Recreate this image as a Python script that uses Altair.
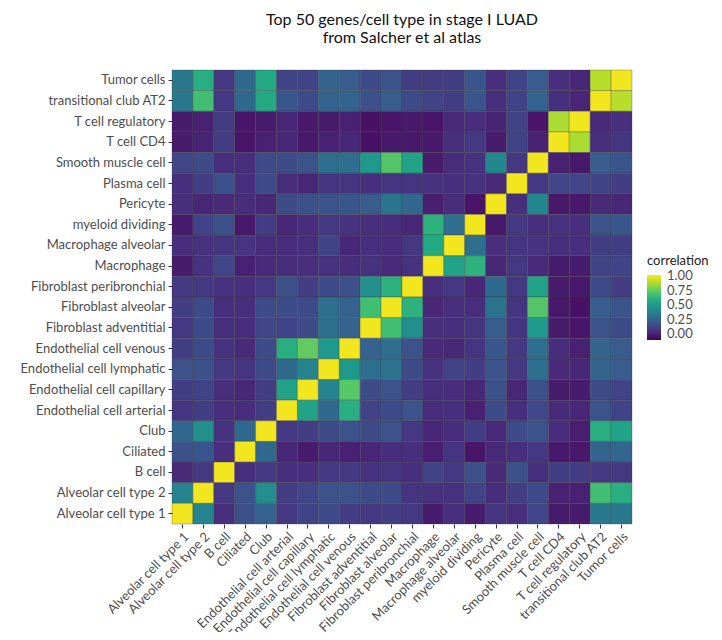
import altair as alt
import pandas as pd

cell_types = [
    "Alveolar cell type 1", "Alveolar cell type 2", "B cell", "Ciliated", "Club",
    "Endothelial cell arterial", "Endothelial cell capillary", "Endothelial cell lymphatic",
    "Endothelial cell venous", "Fibroblast adventitial", "Fibroblast alveolar",
    "Fibroblast peribronchial", "Macrophage", "Macrophage alveolar", "myeloid dividing",
    "Pericyte", "Plasma cell", "Smooth muscle cell", "T cell CD4", "T cell regulatory",
    "transitional club AT2", "Tumor cells",
]

# rows listed top (Tumor cells) to bottom (Alveolar cell type 1); columns follow cell_types
row_names = list(reversed(cell_types))
corr_rows = [
    [0.35,0.6,0.08,0.28,0.58,0.12,0.12,0.25,0.22,0.15,0.18,0.1,0.1,0.1,0.2,0.05,0.12,0.22,0.05,0.02,0.9,1.0],
    [0.35,0.68,0.08,0.28,0.58,0.2,0.15,0.25,0.25,0.17,0.22,0.15,0.12,0.1,0.2,0.05,0.12,0.25,0.05,0.02,1.0,0.9],
    [-0.02,0.0,0.1,-0.04,-0.02,0.02,-0.03,-0.02,0.0,-0.05,-0.04,-0.03,-0.04,0.03,0.04,0.01,0.12,-0.04,0.88,1.0,0.03,0.05],
    [-0.02,0.01,0.1,-0.04,0.0,0.02,-0.03,0.0,0.02,-0.05,-0.03,-0.03,-0.03,0.05,0.08,-0.02,0.12,0.0,1.0,0.88,0.05,0.07],
    [0.13,0.15,0.05,0.05,0.15,0.15,0.18,0.3,0.3,0.5,0.72,0.55,-0.02,0.04,0.06,0.42,0.08,1.0,0.0,-0.03,0.22,0.2],
    [0.05,0.1,0.17,0.05,0.15,0.04,0.02,0.07,0.07,0.05,0.07,0.07,0.06,0.05,0.06,0.03,1.0,0.08,0.13,0.13,0.12,0.1],
    [0.05,0.02,0.03,0.04,0.02,0.15,0.17,0.18,0.2,0.22,0.33,0.28,-0.01,0.04,-0.04,1.0,0.05,0.42,-0.03,-0.03,0.03,0.02],
    [-0.02,0.12,0.17,-0.03,0.1,0.02,0.04,0.08,0.06,0.05,0.04,0.02,0.62,0.3,1.0,-0.03,0.08,0.05,0.06,0.05,0.18,0.2],
    [0.04,0.06,0.07,0.07,0.04,0.04,0.05,0.12,0.02,0.05,0.04,0.08,0.58,1.0,0.3,0.05,0.07,0.06,0.05,0.05,0.1,0.1],
    [-0.02,0.06,0.13,0.0,0.03,0.04,0.05,0.06,0.04,0.06,0.03,0.06,1.0,0.55,0.62,0.02,0.08,0.03,-0.02,-0.02,0.12,0.12],
    [0.08,0.08,0.06,0.05,0.08,0.17,0.1,0.15,0.17,0.45,0.62,1.0,0.05,0.08,0.02,0.28,0.08,0.55,-0.02,-0.03,0.15,0.1],
    [0.1,0.15,0.05,0.05,0.15,0.15,0.15,0.3,0.25,0.68,1.0,0.62,0.02,0.05,0.05,0.33,0.07,0.72,-0.03,-0.05,0.22,0.18],
    [0.08,0.15,0.05,0.04,0.13,0.12,0.15,0.3,0.25,1.0,0.68,0.45,0.05,0.05,0.07,0.22,0.07,0.5,-0.02,-0.04,0.18,0.15],
    [0.1,0.15,0.06,0.03,0.15,0.6,0.75,0.5,1.0,0.25,0.3,0.18,0.03,0.02,0.07,0.2,0.08,0.3,0.04,0.0,0.25,0.22],
    [0.18,0.17,0.08,0.07,0.15,0.28,0.4,1.0,0.5,0.3,0.32,0.15,0.06,0.12,0.1,0.18,0.08,0.3,0.03,0.02,0.25,0.22],
    [0.1,0.12,0.05,0.02,0.1,0.55,1.0,0.4,0.73,0.15,0.18,0.1,0.05,0.04,0.02,0.17,0.02,0.17,-0.02,-0.02,0.15,0.12],
    [0.07,0.1,0.05,0.04,0.1,1.0,0.55,0.28,0.6,0.12,0.15,0.18,0.04,0.05,0.0,0.15,0.05,0.14,0.03,0.02,0.18,0.12],
    [0.27,0.45,0.06,0.28,1.0,0.08,0.1,0.15,0.18,0.15,0.18,0.08,0.02,0.04,0.1,0.03,0.15,0.18,0.04,-0.01,0.6,0.55],
    [0.17,0.2,0.05,1.0,0.28,0.02,-0.02,0.02,0.0,0.02,0.04,0.05,-0.01,0.07,-0.04,0.03,0.05,0.08,-0.03,-0.03,0.25,0.27],
    [0.03,0.08,1.0,0.05,0.08,0.05,0.05,0.08,0.08,0.06,0.07,0.05,0.12,0.08,0.17,0.03,0.17,0.05,0.1,0.1,0.08,0.08],
    [0.4,1.0,0.08,0.18,0.45,0.1,0.13,0.18,0.18,0.15,0.15,0.07,0.06,0.06,0.12,0.04,0.1,0.15,0.0,0.0,0.68,0.6],
    [1.0,0.4,0.05,0.17,0.25,0.08,0.12,0.15,0.1,0.08,0.1,0.08,-0.02,0.05,-0.02,0.07,0.05,0.13,-0.02,-0.02,0.35,0.35],
]
legend_ticks = [0.0, 0.25, 0.5, 0.75, 1.0]

records = []
for rname, vals in zip(row_names, corr_rows):
    for cname, v in zip(cell_types, vals):
        records.append({"row": rname, "col": cname, "correlation": v})
df = pd.DataFrame(records)

FONT = "Lato"
GREY = "#4d4d4d"

chart = alt.Chart(df).mark_rect(stroke="#3a3a3a", strokeWidth=0.5, strokeOpacity=0.6).encode(
    x=alt.X("col:N", sort=cell_types, title=None,
            axis=alt.Axis(labelAngle=-45, labelAlign="right", labelBaseline="top",
                          labelFontSize=13, labelColor=GREY, labelFont=FONT,
                          tickColor="#333333", tickSize=4, domain=False, labelPadding=2)),
    y=alt.Y("row:N", sort=row_names, title=None,
            axis=alt.Axis(labelFontSize=13, labelColor=GREY, labelFont=FONT,
                          tickColor="#333333", tickSize=4, domain=False, labelPadding=3)),
    color=alt.Color("correlation:Q",
                    scale=alt.Scale(scheme="viridis", domain=[-0.1, 1.02]),
                    legend=alt.Legend(title="correlation", values=legend_ticks, format=".2f",
                                      orient="none", legendX=475, legendY=185,
                                      gradientLength=65, gradientThickness=14,
                                      titlePadding=7, labelOffset=6,
                                      titleFont=FONT, titleFontSize=13, titleFontWeight="normal",
                                      titleColor="#222222", labelFont=FONT, labelFontSize=13,
                                      labelColor=GREY, tickCount=5)),
).properties(
    width=460, height=454,
    title=alt.Title(["Top 50 genes/cell type in stage I LUAD", "from Salcher et al atlas"],
                    font=FONT, fontSize=16, fontWeight="normal", color="#111111",
                    anchor="middle", offset=24),
    autosize=alt.AutoSizeParams(type="none"),
    padding={"left": 164, "top": 62, "right": 82, "bottom": 108},
).configure_view(stroke=None).configure_axis(grid=False)

chart.save("out.html", embed_options={"renderer": "svg", "actions": False})
